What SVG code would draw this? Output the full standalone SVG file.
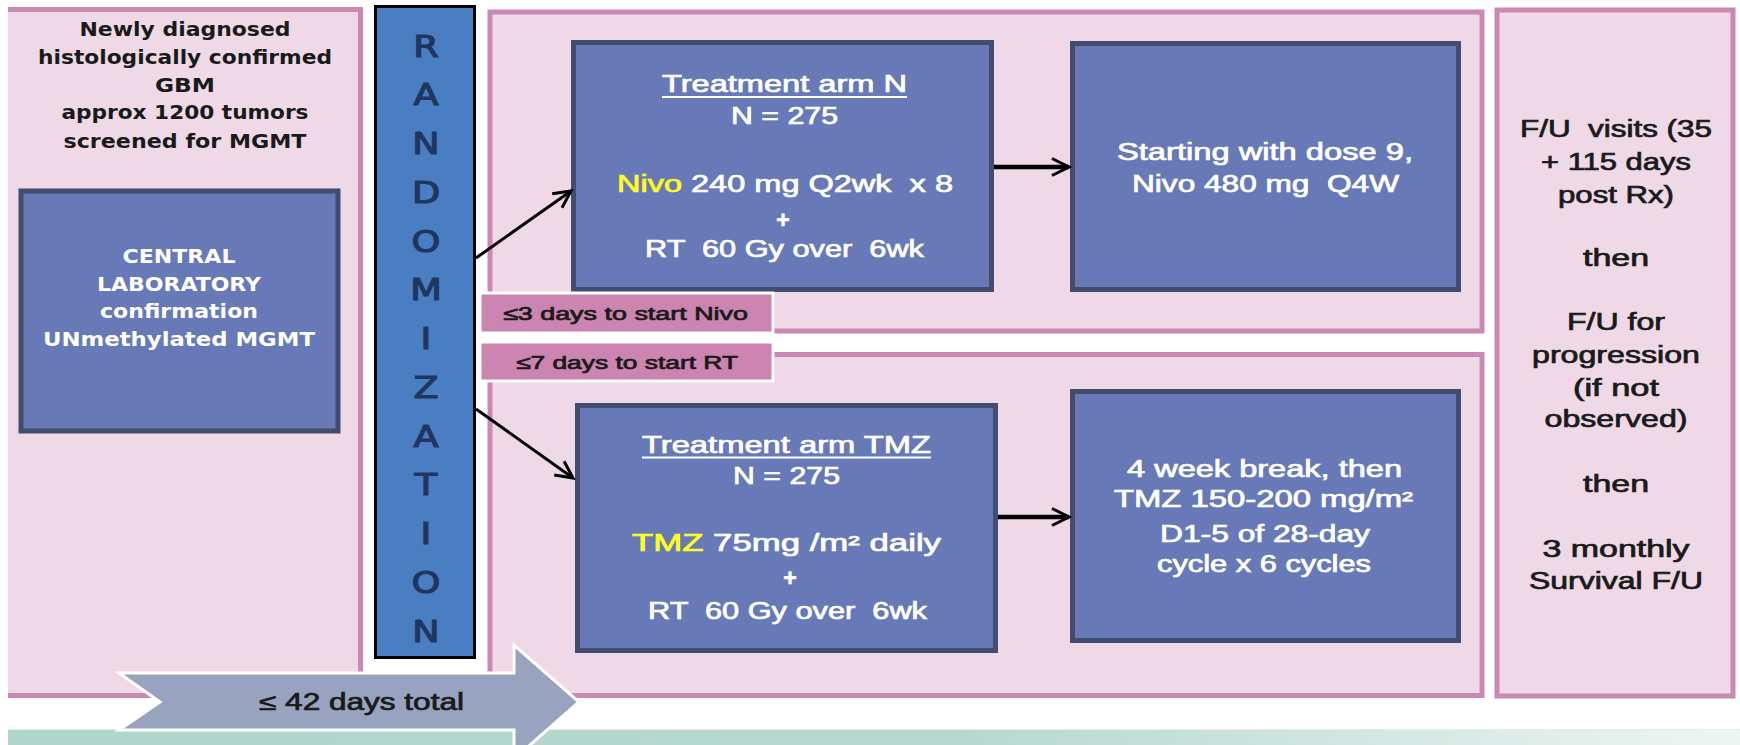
<svg xmlns="http://www.w3.org/2000/svg" width="1740" height="745" viewBox="0 0 1740 745">
<defs>
<linearGradient id="stripGrad" x1="0" x2="1" y1="0" y2="0">
<stop offset="0" stop-color="#B0D5CB"/>
<stop offset="0.55" stop-color="#B6D8D0"/>
<stop offset="1" stop-color="#EEF5F3"/>
</linearGradient>
<marker id="ah" markerUnits="userSpaceOnUse" markerWidth="30" markerHeight="30" viewBox="-22 -15 30 30" refX="0" refY="0" orient="auto">
<path d="M-17,-8.5 L0,0 L-17,8.5" fill="none" stroke="#000" stroke-width="3"/>
</marker>
<style>
.panel{fill:#EFD9E6;stroke:#CC88B4;stroke-width:5}
.box{fill:#6779B6;stroke:#414C6E;stroke-width:5}
.lbl{fill:#CC84B0;stroke:#FFFFFF;stroke-width:3}
.cal{font-family:"Liberation Sans",Arial,sans-serif;font-size:23px;text-anchor:middle;white-space:pre;stroke-width:0.7px}
.small{font-size:18.5px}
.ver{font-family:"DejaVu Sans",Verdana,sans-serif;font-weight:bold;font-size:20px;text-anchor:middle}
.rnd{font-family:"DejaVu Sans",Verdana,sans-serif;font-size:30px;text-anchor:middle;fill:#1F3760;stroke:#1F3760;stroke-width:1.2px}
.w{fill:#FFFFFF}
.cal.w{stroke:#FFFFFF}
.k{fill:#1A1A1A}
.cal.k{stroke:#1A1A1A}
.yl{fill:#FFFF22;stroke:#FFFF22}
.conn{stroke:#000;fill:none;marker-end:url(#ah)}
</style>
</defs>

<!-- background panels -->
<g id="panel-screening">
<rect x="8" y="9" width="353" height="687" fill="#EFD9E6"/>
<path d="M8,9.5 H360.5 V695.5 H8" fill="none" stroke="#CC88B4" stroke-width="5"/>
</g>
<g id="panel-armN">
<rect class="panel" x="490" y="12" width="992" height="319"/>
</g>
<g id="panel-armTMZ">
<rect class="panel" x="490" y="354.5" width="992" height="341"/>
</g>
<g id="panel-followup">
<rect class="panel" x="1497" y="10" width="236" height="686"/>
</g>

<rect id="bottom-strip" x="8" y="730" width="1732" height="15" fill="url(#stripGrad)"/>
<line x1="8" y1="729.5" x2="1740" y2="729.5" stroke="#E2ECEA" stroke-width="1"/>

<!-- screening text -->
<g id="screening-text">
<text class="ver k" x="185" y="36" textLength="211" lengthAdjust="spacingAndGlyphs">Newly diagnosed</text>
<text class="ver k" x="185" y="64" textLength="294" lengthAdjust="spacingAndGlyphs">histologically confirmed</text>
<text class="ver k" x="185" y="92" textLength="60" lengthAdjust="spacingAndGlyphs">GBM</text>
<text class="ver k" x="185" y="119" textLength="247" lengthAdjust="spacingAndGlyphs">approx 1200 tumors</text>
<text class="ver k" x="185" y="148" textLength="243" lengthAdjust="spacingAndGlyphs">screened for MGMT</text>
</g>

<g id="central-lab">
<rect class="box" x="21" y="191" width="317" height="240"/>
<text class="ver w" x="179" y="263" textLength="113" lengthAdjust="spacingAndGlyphs">CENTRAL</text>
<text class="ver w" x="179" y="291" textLength="164" lengthAdjust="spacingAndGlyphs">LABORATORY</text>
<text class="ver w" x="179" y="318" textLength="158" lengthAdjust="spacingAndGlyphs">confirmation</text>
<text class="ver w" x="179" y="346" textLength="272" lengthAdjust="spacingAndGlyphs">UNmethylated MGMT</text>
</g>

<g id="randomization">
<rect x="375.5" y="6.5" width="99" height="651" fill="#4A7EC2" stroke="#000" stroke-width="3"/>
<g transform="translate(426,0) scale(1.22,1)">
<text class="rnd" x="0" y="57">R</text>
<text class="rnd" x="0" y="105.5">A</text>
<text class="rnd" x="0" y="154.5">N</text>
<text class="rnd" x="0" y="203">D</text>
<text class="rnd" x="0" y="252">O</text>
<text class="rnd" x="0" y="300.5">M</text>
<text class="rnd" x="0" y="349.5">I</text>
<text class="rnd" x="0" y="398">Z</text>
<text class="rnd" x="0" y="447">A</text>
<text class="rnd" x="0" y="495.5">T</text>
<text class="rnd" x="0" y="544.5">I</text>
<text class="rnd" x="0" y="593">O</text>
<text class="rnd" x="0" y="642">N</text>
</g>
</g>

<g id="arm-N">
<rect class="box" x="573.5" y="42.5" width="418" height="247"/>
<text class="cal w" x="784.5" y="92" textLength="245" lengthAdjust="spacingAndGlyphs">Treatment arm N</text>
<line x1="662" y1="97" x2="907" y2="97" stroke="#FFFFFF" stroke-width="2"/>
<text class="cal w" x="784.5" y="124" textLength="107" lengthAdjust="spacingAndGlyphs">N = 275</text>
<text class="cal w" x="785" y="192" textLength="336" lengthAdjust="spacingAndGlyphs"><tspan class="yl">Nivo</tspan> 240 mg Q2wk  x 8</text>
<text class="cal w" x="783" y="228" font-weight="bold">+</text>
<text class="cal w" x="784.5" y="257" textLength="279" lengthAdjust="spacingAndGlyphs">RT  60 Gy over  6wk</text>
</g>

<g id="arm-N-maintenance">
<rect class="box" x="1072.5" y="43.5" width="386" height="246"/>
<text class="cal w" x="1265" y="160" textLength="296" lengthAdjust="spacingAndGlyphs">Starting with dose 9,</text>
<text class="cal w" x="1265.5" y="192" textLength="267" lengthAdjust="spacingAndGlyphs">Nivo 480 mg  Q4W</text>
</g>

<g id="arm-TMZ">
<rect class="box" x="577.5" y="405.5" width="418" height="245"/>
<text class="cal w" x="786.5" y="453" textLength="289" lengthAdjust="spacingAndGlyphs">Treatment arm TMZ</text>
<line x1="642" y1="457.5" x2="931" y2="457.5" stroke="#FFFFFF" stroke-width="2"/>
<text class="cal w" x="786.5" y="484" textLength="107" lengthAdjust="spacingAndGlyphs">N = 275</text>
<text class="cal w" x="786.5" y="551" textLength="309" lengthAdjust="spacingAndGlyphs"><tspan class="yl">TMZ</tspan> 75mg /m² daily</text>
<text class="cal w" x="790" y="586" font-weight="bold">+</text>
<text class="cal w" x="787.5" y="619" textLength="279" lengthAdjust="spacingAndGlyphs">RT  60 Gy over  6wk</text>
</g>

<g id="arm-TMZ-maintenance">
<rect class="box" x="1072.5" y="391.5" width="386" height="249"/>
<text class="cal w" x="1264.5" y="477" textLength="275" lengthAdjust="spacingAndGlyphs">4 week break, then</text>
<text class="cal w" x="1263.5" y="507" textLength="299" lengthAdjust="spacingAndGlyphs">TMZ 150-200 mg/m²</text>
<text class="cal w" x="1265" y="542" textLength="210" lengthAdjust="spacingAndGlyphs">D1-5 of 28-day</text>
<text class="cal w" x="1264" y="572" textLength="214" lengthAdjust="spacingAndGlyphs">cycle x 6 cycles</text>
</g>

<g id="label-nivo-start">
<rect class="lbl" x="480" y="293" width="293" height="40"/>
<text class="cal small k" x="625.5" y="320" textLength="245" lengthAdjust="spacingAndGlyphs">≤3 days to start Nivo</text>
</g>
<g id="label-rt-start">
<rect class="lbl" x="480" y="342" width="293" height="39"/>
<text class="cal small k" x="627" y="369" textLength="222" lengthAdjust="spacingAndGlyphs">≤7 days to start RT</text>
</g>

<g id="followup">
<text class="cal k" x="1616" y="137" textLength="192" lengthAdjust="spacingAndGlyphs">F/U  visits (35</text>
<text class="cal k" x="1616" y="170" textLength="150" lengthAdjust="spacingAndGlyphs">+ 115 days</text>
<text class="cal k" x="1616" y="203" textLength="116" lengthAdjust="spacingAndGlyphs">post Rx)</text>
<text class="cal k" x="1616" y="266" textLength="66" lengthAdjust="spacingAndGlyphs">then</text>
<text class="cal k" x="1616" y="330" textLength="98" lengthAdjust="spacingAndGlyphs">F/U for</text>
<text class="cal k" x="1616" y="363" textLength="168" lengthAdjust="spacingAndGlyphs">progression</text>
<text class="cal k" x="1616" y="396" textLength="86" lengthAdjust="spacingAndGlyphs">(if not</text>
<text class="cal k" x="1616" y="427" textLength="143" lengthAdjust="spacingAndGlyphs">observed)</text>
<text class="cal k" x="1616" y="492" textLength="66" lengthAdjust="spacingAndGlyphs">then</text>
<text class="cal k" x="1616" y="557" textLength="147" lengthAdjust="spacingAndGlyphs">3 monthly</text>
<text class="cal k" x="1616" y="589" textLength="174" lengthAdjust="spacingAndGlyphs">Survival F/U</text>
</g>

<g id="connectors">
<line class="conn" x1="476" y1="258" x2="571" y2="191" stroke-width="3"/>
<line class="conn" x1="476" y1="409" x2="573" y2="478" stroke-width="3"/>
<line class="conn" x1="994" y1="167" x2="1069" y2="167" stroke-width="4.5"/>
<line class="conn" x1="998" y1="517" x2="1069" y2="517" stroke-width="4.5"/>
</g>

<g id="timeline-arrow">
<polygon points="119,673 514,673 514,645 579,702 514,759 514,730 119,730 160,702" fill="#97A3BF" stroke="#FFFFFF" stroke-width="3"/>
<text class="cal k" x="361.5" y="710" textLength="205" lengthAdjust="spacingAndGlyphs">≤ 42 days total</text>
</g>
</svg>
